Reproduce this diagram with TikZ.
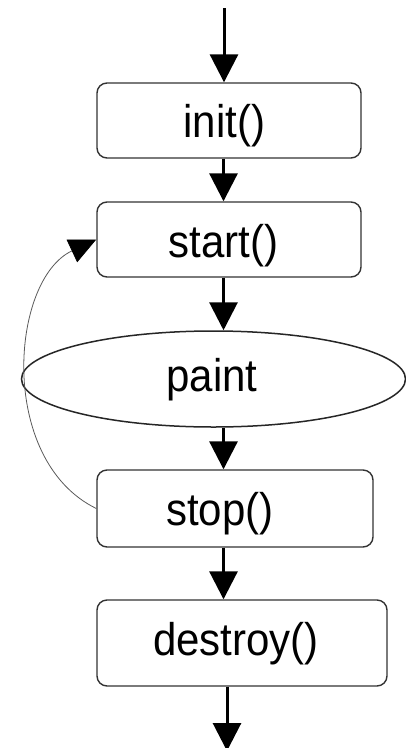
\documentclass[tikz,border=0pt]{standalone}
\usepackage{fontspec}
\usepackage{graphicx}
\setmainfont{Liberation Sans}
\usetikzlibrary{arrows.meta,shapes.geometric}
\newcommand{\tallt}[1]{\scalebox{1}[1.09]{#1}}
\begin{document}
\begin{tikzpicture}[x=1pt,y=-1pt,
  box/.style={draw=black!80, line width=1.4pt, rounded corners=10pt, inner sep=0pt, rectangle},
  oval/.style={ellipse, draw=black!85, line width=1.5pt, inner sep=0pt, minimum width=384pt, minimum height=96pt},
  lbl/.style={anchor=base, font=\fontsize{42}{50}\selectfont, inner sep=0pt},
  flow/.style={line width=3pt, -{Triangle[width=28pt,length=28pt]}},
  back/.style={draw=black!65, line width=0.8pt, -{Triangle[width=25pt,length=27pt,color=black]}}]
\useasboundingbox (0,0) rectangle (406,748);
% boxes
\node[box, minimum width=264pt, minimum height=75pt] (init) at (229,120.5) {};
\node[box, minimum width=264pt, minimum height=75pt] (start) at (229,239.5) {};
\node[oval] (paint) at (213.5,379) {};
\node[box, minimum width=276pt, minimum height=77pt] (stop) at (235,508.5) {};
\node[box, minimum width=290pt, minimum height=86pt] (destroy) at (242,643) {};
% labels
\node[lbl] (tinit) at (224.5,137) {\tallt{init()}};
\node[lbl] (tstart) at (223.5,257) {\tallt{start()}};
\node[lbl] (tpaint) at (212,391.5) {\tallt{paint}};
\node[lbl] (tstop) at (220,525) {\tallt{stop()}};
\node[lbl] (tdestroy) at (236,655) {\tallt{destroy()}};
% coordinates
\coordinate (in) at (224,8);
\coordinate (axis) at (223.5,0);
\coordinate (axisb) at (227,0);
\coordinate (out) at (227,751);
% connectors
\draw[flow] (in) -- (init.north -| in);
\draw[flow] (init.south -| axis) -- (start.north -| axis);
\draw[flow] (start.south -| axis) -- (paint.north -| axis);
\draw[flow] (paint.south -| axis) -- (stop.north -| axis);
\draw[flow] (stop.south -| axis) -- (destroy.north -| axis);
\draw[flow] (destroy.south -| axisb) -- (out);
\draw[back] (stop.west) .. controls +(-99,-48.4) and +(-86.1,40.2) .. (start.west);
\end{tikzpicture}
\end{document}
